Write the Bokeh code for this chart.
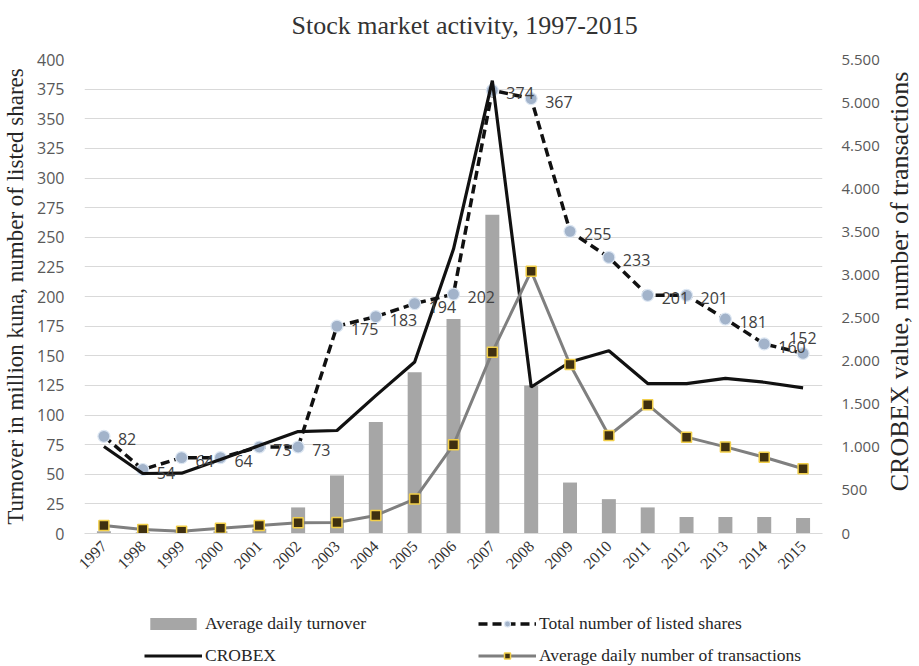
import math
from bokeh.plotting import figure
from bokeh.layouts import column, row
from bokeh.models import (Range1d, LinearAxis, FactorRange, Legend, LegendItem,
                          ColumnDataSource, FixedTicker, CustomJSTickFormatter,
                          LabelSet)
from bokeh.core.properties import value
from bokeh.embed import file_html
from bokeh.resources import INLINE

# ---- data -------------------------------------------------------------
years = [str(y) for y in range(1997, 2016)]
# average daily turnover, million kuna (left axis)
turnover = [2, 1, 1, 2, 4, 22, 49, 94, 136, 181, 269, 125, 43, 29, 22, 14, 14, 14, 13]
# total number of listed shares (left axis)
listed_shares = [82, 54, 64, 64, 73, 73, 175, 183, 194, 202, 374, 367, 255, 233, 201, 201, 181, 160, 152]
# CROBEX index value (right axis)
crobex = [1009, 696, 700, 858, 1020, 1183, 1195, 1600, 1990, 3300, 5255, 1700, 1990, 2120, 1740, 1740, 1800, 1755, 1690]
# average daily number of transactions (right axis)
transactions = [92, 46, 25, 62, 92, 124, 128, 209, 400, 1030, 2104, 3044, 1961, 1137, 1495, 1118, 1005, 885, 751]

left_ticks = list(range(0, 401, 25))
right_ticks = list(range(0, 5501, 500))

SERIF = "Liberation Serif"
SANS = "Open Sans"
W_MAIN = 882          # chart column
W_SIDE = 37           # strip holding the right-hand axis title
H_TITLE, H_PLOT, H_LEG = 49, 551, 66
H_ALL = H_TITLE + H_PLOT + H_LEG

# styles shared by the chart and the legend
BAR = dict(fill_color="#A6A6A6", line_color=None)
SHARES_LINE = dict(line_color="#111111", line_width=3.5, line_dash="9 5")
SHARES_PTS = dict(marker="circle", size=12, fill_color="#A2B3CA",
                  line_color="#DCE6F2", line_width=1.2)
CROBEX_LINE = dict(line_color="#111111", line_width=3.2)
TX_LINE = dict(line_color="#7F7F7F", line_width=3)
TX_PTS = dict(marker="square", size=10, fill_color="#3F3010",
              line_color="#F2CF4A", line_width=1.5)


def bare(fig):
    fig.outline_line_color = None
    fig.background_fill_color = "white"
    fig.border_fill_color = "white"
    fig.min_border = 0
    fig.xgrid.grid_line_color = None
    fig.ygrid.grid_line_color = None
    return fig


def strip(width, height, **kw):
    return bare(figure(width=width, height=height,
                       x_range=Range1d(0, 1), y_range=Range1d(0, 1),
                       x_axis_location=None, y_axis_location=None,
                       output_backend="svg", toolbar_location=None, **kw))


# ---- title strip -------------------------------------------------------
pt = strip(W_MAIN, H_TITLE)
pt.min_border_top = 40
pt.title.text = "Stock market activity, 1997-2015"
pt.title.align = "left"
pt.title.offset = 207
pt.title.vertical_align = "bottom"
pt.title.standoff = 2
pt.title.text_font = SERIF
pt.title.text_font_size = "26px"
pt.title.text_font_style = "normal"
pt.title.text_color = "#333333"

# ---- main chart --------------------------------------------------------
# value labels sit right of each marker; the last one goes above it so it
# stays inside the plot area
lbl_dx = [14] * len(years)
lbl_dy = [-3] * len(years)
lbl_dx[-1] = -14
lbl_dy[-1] = 15

src = ColumnDataSource(dict(
    year=years, turnover=turnover, shares=listed_shares, crobex=crobex,
    tx=transactions, shares_lbl=[str(v) for v in listed_shares],
    dx=lbl_dx, dy=lbl_dy,
))

p = figure(width=W_MAIN, height=H_PLOT,
           x_range=FactorRange(factors=years),
           y_range=Range1d(0, 400),
           output_backend="svg", toolbar_location=None,
           min_border_left=83, min_border_right=W_MAIN - 825,
           min_border_top=10, min_border_bottom=67)
p.extra_y_ranges = {"right": Range1d(0, 5500)}
p.outline_line_color = None
p.background_fill_color = "white"
p.border_fill_color = "white"

p.xgrid.grid_line_color = None
p.ygrid.ticker = FixedTicker(ticks=left_ticks)
p.ygrid.grid_line_color = "#D9D9D9"
p.ygrid.grid_line_width = 1

# left axis
yl = p.yaxis[0]
yl.ticker = FixedTicker(ticks=left_ticks)
yl.axis_line_color = None
yl.major_tick_line_color = None
yl.minor_tick_line_color = None
yl.major_tick_out = 0
yl.major_label_standoff = 20
yl.major_label_text_font = SANS
yl.major_label_text_font_size = "16px"
yl.major_label_text_color = "#595959"
yl.axis_label = "Turnover in million kuna, number of listed shares"
yl.axis_label_text_font = SERIF
yl.axis_label_text_font_size = "23px"
yl.axis_label_text_font_style = "normal"
yl.axis_label_text_color = "#262626"
yl.axis_label_standoff = 6

# right axis
yr = LinearAxis(y_range_name="right", ticker=FixedTicker(ticks=right_ticks))
yr.formatter = CustomJSTickFormatter(code="""
    const s = Math.round(tick).toString();
    return s.replace(/\\B(?=(\\d{3})+(?!\\d))/g, '.');
""")
yr.axis_line_color = None
yr.major_tick_line_color = None
yr.minor_tick_line_color = None
yr.major_tick_out = 0
yr.major_label_standoff = 19
yr.major_label_text_font = SANS
yr.major_label_text_font_size = "15px"
yr.major_label_text_color = "#595959"
p.add_layout(yr, "right")

# x axis
xa = p.xaxis[0]
xa.axis_line_color = "#D9D9D9"
xa.major_tick_line_color = None
xa.minor_tick_line_color = None
xa.major_tick_out = 0
xa.major_label_orientation = math.pi / 4
xa.major_label_standoff = 10
xa.major_label_text_font = SERIF
xa.major_label_text_font_size = "16px"
xa.major_label_text_color = "#333333"

# series
p.vbar(x="year", top="turnover", width=0.36, source=src, **BAR)
p.line("year", "shares", source=src, **SHARES_LINE)
p.scatter("year", "shares", source=src, **SHARES_PTS)
p.line("year", "crobex", source=src, y_range_name="right", **CROBEX_LINE)
p.line("year", "tx", source=src, y_range_name="right", **TX_LINE)
p.scatter("year", "tx", source=src, y_range_name="right", **TX_PTS)

labels = LabelSet(x="year", y="shares", text="shares_lbl", source=src,
                  x_offset="dx", y_offset="dy", text_baseline="middle",
                  text_font=value(SANS), text_font_size="16px",
                  text_color="#404040")
p.add_layout(labels)

# ---- legend strip ------------------------------------------------------
pl = strip(W_MAIN, H_LEG)
# legend keys only: one NaN point each, so nothing is drawn in the strip
nan = float("nan")
key = ColumnDataSource(dict(x=[nan], y=[nan]))
k_bar = pl.vbar(x="x", top="y", width=0.1, source=key, **BAR)
k_crobex = pl.line("x", "y", source=key, **CROBEX_LINE)
k_sh_line = pl.line("x", "y", source=key, **SHARES_LINE)
k_sh_pts = pl.scatter("x", "y", source=key, **SHARES_PTS)
k_tx_line = pl.line("x", "y", source=key, **TX_LINE)
k_tx_pts = pl.scatter("x", "y", source=key, **TX_PTS)


def make_legend(items, loc):
    lg = Legend(items=items, location=loc, orientation="vertical")
    lg.border_line_color = None
    lg.background_fill_alpha = 0
    lg.padding = 0
    lg.margin = 0
    lg.spacing = 11
    lg.glyph_width = 58
    lg.glyph_height = 15
    lg.label_standoff = 3
    lg.label_text_font = SERIF
    lg.label_text_font_size = "17.5px"
    lg.label_text_color = "#262626"
    return lg


pl.add_layout(make_legend([
    LegendItem(label="Average daily turnover", renderers=[k_bar]),
    LegendItem(label="CROBEX", renderers=[k_crobex]),
], (60, 0)))
pl.add_layout(make_legend([
    LegendItem(label="Total number of listed shares", renderers=[k_sh_line, k_sh_pts]),
    LegendItem(label="Average daily number of transactions", renderers=[k_tx_line, k_tx_pts]),
], (394, 0)))

# ---- right-hand axis title, reading bottom-to-top -----------------------
pr = strip(W_SIDE, H_ALL, title_location="left")
pr.min_border_top = 29
pr.min_border_bottom = H_ALL - (H_TITLE + 10 + 474)
pr.title.text = "CROBEX value, number of transactions"
pr.title.align = "center"
pr.title.vertical_align = "bottom"
pr.title.standoff = 0
pr.title.text_font = SERIF
pr.title.text_font_size = "26px"
pr.title.text_font_style = "normal"
pr.title.text_color = "#262626"

page = row(column(pt, p, pl, spacing=0), pr, spacing=0)
open("out.html", "w").write(file_html(page, INLINE))
